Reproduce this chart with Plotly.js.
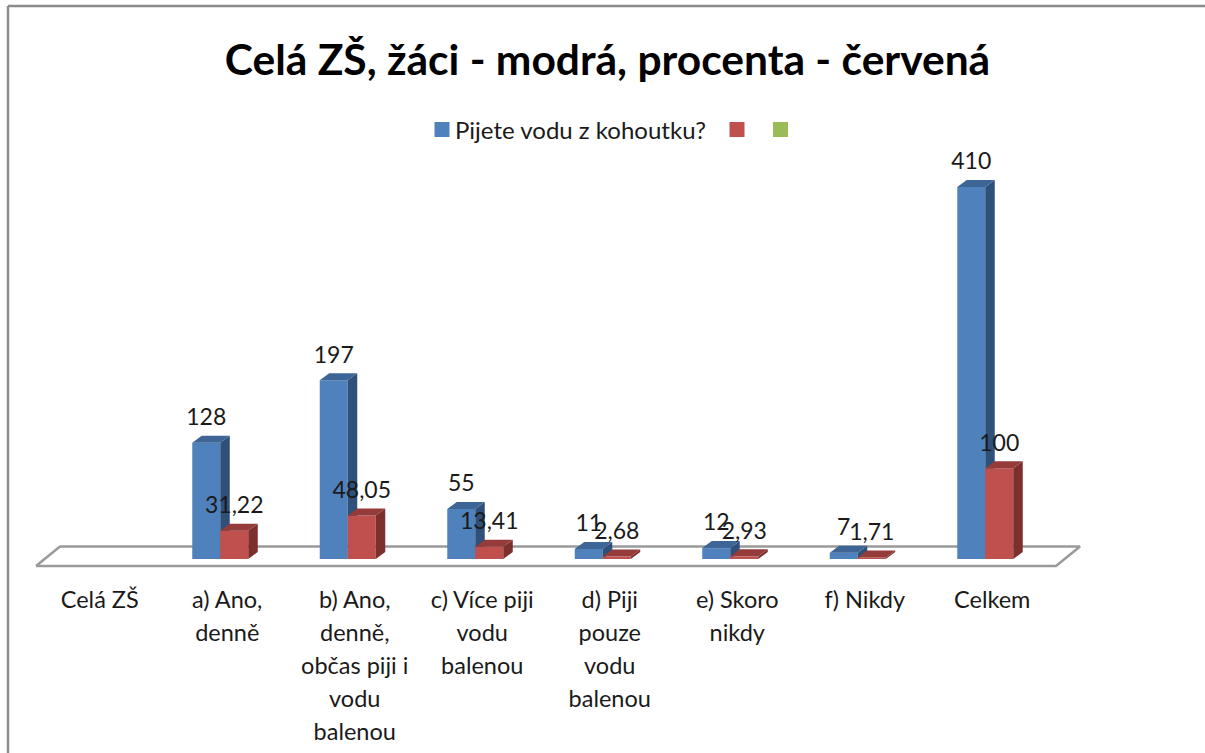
<!DOCTYPE html>
<html>
<head>
<meta charset="utf-8">
<script src="https://cdn.plot.ly/plotly-3.0.1.min.js"></script>
<style>html,body{margin:0;padding:0;background:#fff;overflow:hidden}</style>
</head>
<body>
<div id="chart" style="width:1205px;height:753px"></div>
<script>
const titleText = "Celá ZŠ, žáci - modrá, procenta - červená";
const categoryLines = [
  ["Celá ZŠ"],
  ["a) Ano,", "denně"],
  ["b) Ano,", "denně,", "občas piji i", "vodu", "balenou"],
  ["c) Více piji", "vodu", "balenou"],
  ["d) Piji", "pouze", "vodu", "balenou"],
  ["e) Skoro", "nikdy"],
  ["f) Nikdy"],
  ["Celkem"]
];
const pupils = [null, 128, 197, 55, 11, 12, 7, 410];
const percents = [null, 31.22, 48.05, 13.41, 2.68, 2.93, 1.71, 100];
const seriesName = "Pijete vodu z kohoutku?";

const W = 1205, H = 753, plotBottom = 570, zeroPx = 559;
const pxPerCat = 127.5, pxPerVal = 372 / 410, firstTickPx = 99.75;
const X = px => px / pxPerCat, Y = px => px / pxPerVal;
const barW = X(28), depthX = X(9.5), depthY = Y(7), shiftX = X(7);
const idx = categoryLines.map((_, i) => i);
const fmt = v => v === null ? "" : String(v).replace(".", ",");

function faces(values, offset) {
  const side = {x: [], y: []}, top = {x: [], y: []};
  values.forEach((v, i) => {
    if (v === null) return;
    const x0 = i + offset, x1 = x0 + barW;
    side.x.push(x1, x1 + depthX, x1 + depthX, x1, x1, null);
    side.y.push(0, depthY, v + depthY, v, 0, null);
    top.x.push(x0, x0 + depthX, x1 + depthX, x1, x0, null);
    top.y.push(v, v + depthY, v + depthY, v, v, null);
  });
  return {side, top};
}
const poly = (d, color, z) => ({
  type: "scatter", mode: "lines", x: d.x, y: d.y, fill: "toself", fillcolor: color,
  line: {width: 0, color: color}, showlegend: false, hoverinfo: "skip", zorder: z, cliponaxis: false
});
const bar = (values, offset, color, name, z) => ({
  type: "bar", x: idx, y: values, offset: offset, width: barW, name: name,
  marker: {color: color, line: {width: 0}}, hoverinfo: "skip", zorder: z
});
const labels = (values, offset, z) => ({
  type: "scatter", mode: "text", x: idx.map(i => i + offset + barW / 2),
  y: values.map(v => v === null ? null : v + Y(12)), text: values.map(fmt),
  textposition: "top center", textfont: {family: "Lato, sans-serif", size: 23, color: "#1a1a1a"},
  showlegend: false, hoverinfo: "skip", zorder: z, cliponaxis: false
});

const blueOffset = -shiftX - barW, redOffset = -shiftX;
const blue = faces(pupils, blueOffset), red = faces(percents, redOffset);
const floorBack = Y(zeroPx - 546.5), floorFront = -Y(566 - zeroPx), floorShift = X(24);
const floorX = [-0.5, 7.5, 7.5 + floorShift, -0.5 + floorShift, -0.5];
const floorY = [floorFront, floorFront, floorBack, floorBack, floorFront];

const traces = [
  {type: "scatter", mode: "lines", x: floorX, y: floorY, fill: "toself", fillcolor: "#ffffff",
   line: {color: "#9a9a9a", width: 2.5}, showlegend: false, hoverinfo: "skip", zorder: 0, cliponaxis: false},
  bar(pupils, blueOffset, "#4F81BD", seriesName, 1),
  poly(blue.side, "#2F5078", 2),
  poly(blue.top, "#3D6596", 2),
  bar(percents, redOffset, "#C0504D", " ", 3),
  poly(red.side, "#7D2F2D", 4),
  poly(red.top, "#953B39", 4),
  bar(idx.map(() => null), 0, "#9BBB59", " ", 1),
  labels(pupils, blueOffset, 5),
  labels(percents, redOffset, 5)
];

const layout = {
  width: W, height: H, margin: {l: 0, r: 0, t: 0, b: H - plotBottom},
  paper_bgcolor: "#ffffff", plot_bgcolor: "rgba(0,0,0,0)", barmode: "overlay",
  title: {text: titleText, x: 607.5 / W, xref: "paper", xanchor: "center", y: 1 - 60 / H, yref: "container", yanchor: "middle",
          font: {family: "Lato, sans-serif", size: 42.5, color: "#000000", weight: 700}},
  xaxis: {
    range: [-firstTickPx / pxPerCat, (W - firstTickPx) / pxPerCat], tickmode: "array", tickvals: idx,
    ticktext: categoryLines.map(l => l.map(t => '<span style="font-size:23.5px">' + t + "</span>").join("<br>")),
    tickfont: {family: "Lato, sans-serif", size: 25.4, color: "#1a1a1a"}, tickangle: 0,
    showgrid: false, zeroline: false, showline: false, ticks: "", ticklabelstandoff: 12, automargin: false, fixedrange: true
  },
  yaxis: {
    range: [-(plotBottom - zeroPx) / pxPerVal, zeroPx / pxPerVal], visible: false,
    showgrid: false, zeroline: false, automargin: false, fixedrange: true
  },
  legend: {orientation: "h", x: 415 / W, xanchor: "left", y: 1 - 130 / plotBottom, yanchor: "middle",
           font: {family: "Lato, sans-serif", size: 24, color: "#1a1a1a"}, bgcolor: "rgba(0,0,0,0)", itemwidth: 30},
  shapes: [
    {type: "line", xref: "paper", yref: "paper", x0: 8 / W, x1: 1, y0: 1 - 6 / plotBottom, y1: 1 - 6 / plotBottom, line: {color: "#8c8c8c", width: 2.5}},
    {type: "line", xref: "paper", yref: "paper", x0: 8 / W, x1: 8 / W, y0: 1 - 6 / plotBottom, y1: 1 - 753 / plotBottom, line: {color: "#8c8c8c", width: 2.5}}
  ],
  showlegend: true
};
const swatchCentres = [442, 737, 780.5];
Plotly.newPlot("chart", traces, layout, {displayModeBar: false, staticPlot: true}).then(() => {
  document.querySelectorAll("#chart .legend .traces .legendpoints path").forEach((p, i) => {
    const b = p.getBoundingClientRect();
    const m = /translate\(([-\d.]+)/.exec(p.getAttribute("transform") || "");
    const tx = (m ? parseFloat(m[1]) : 0) + swatchCentres[i] - (b.left + b.width / 2);
    p.setAttribute("d", "M7.5,7.5H-7.5V-7.5H7.5Z");
    p.setAttribute("transform", "translate(" + tx + ",0)");
  });
});
</script>
</body>
</html>
